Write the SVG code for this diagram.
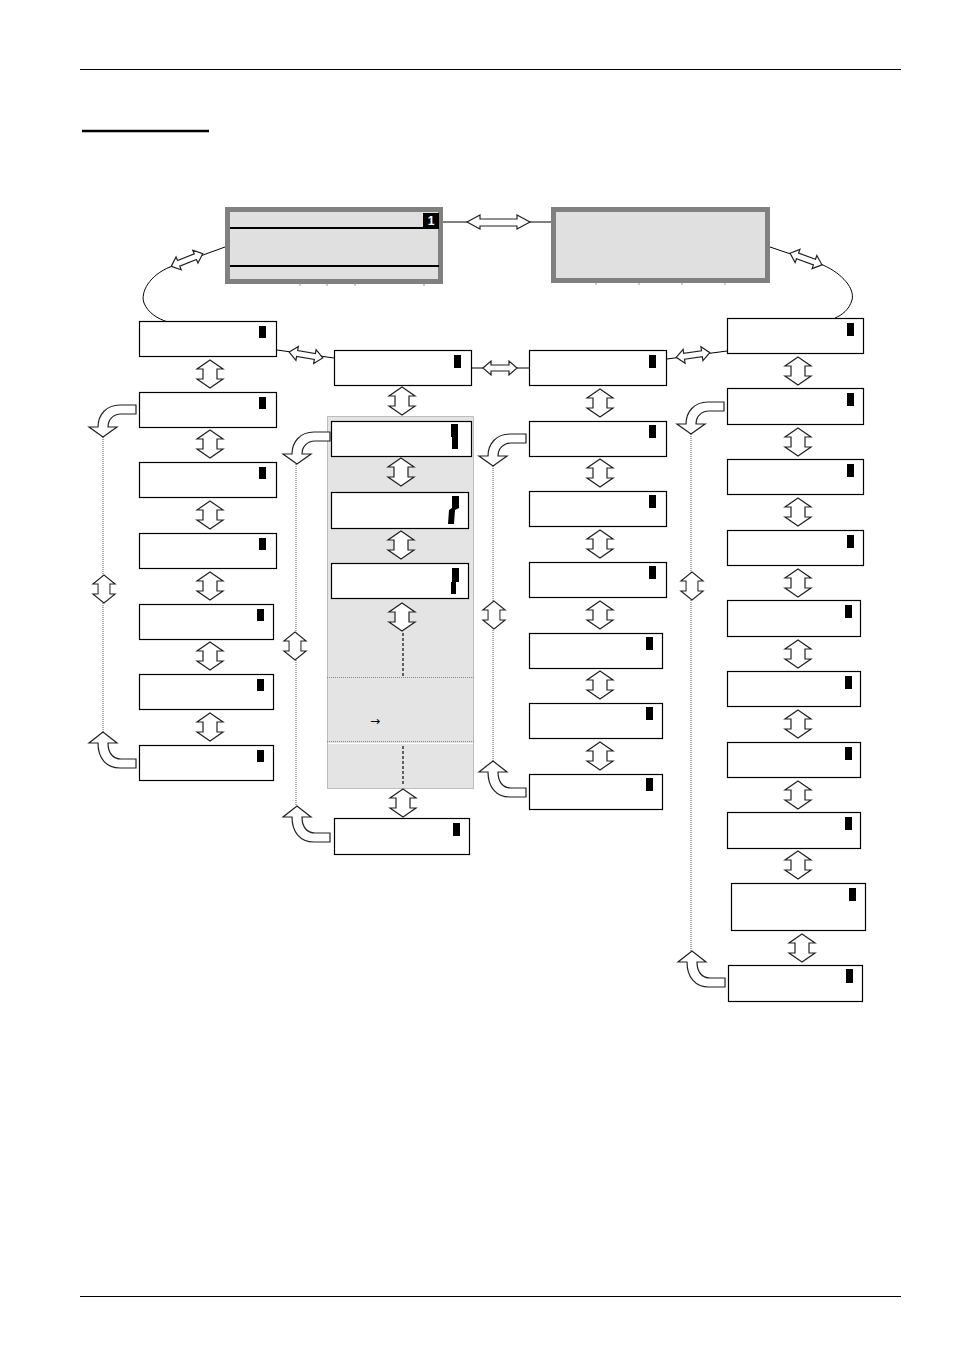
<svg xmlns="http://www.w3.org/2000/svg" width="954" height="1350" viewBox="0 0 954 1350">
<style>
.box{fill:#fff;stroke:#000;stroke-width:1.2}
.mk{fill:#000}
.lcd{fill:#e0e0e0;stroke:#808080;stroke-width:5}
.arr{fill:#fff;stroke:#222;stroke-width:1.2}
.dot{fill:none;stroke:#555;stroke-width:1;stroke-dasharray:1,1}
.ln{fill:none;stroke:#000;stroke-width:1}
.dash{fill:none;stroke:#333;stroke-width:1.5;stroke-dasharray:3,2}
.tick{stroke:#999;stroke-width:1}
</style>
<defs>
<path id="vda" d="M0,-14 L13,-5 L7,-5 L7,5 L13,5 L0,14 L-13,5 L-7,5 L-7,-5 L-13,-5 Z"/>
<path id="hda" d="M-17,0 L-9,-7 L-9,-3 L9,-3 L9,-7 L17,0 L9,7 L9,3 L-9,3 L-9,7 Z"/>
<path id="bdn" d="M0,0 L-16,0 C-30,0 -38,10 -38,22 L-47,22 L-33,32 L-19,22 L-28,22 C-28,15 -23,9 -15,9 L0,9 Z"/>
<path id="bup" d="M0,0 L-16,0 C-30,0 -38,-10 -38,-25 L-47,-25 L-33,-36 L-19,-25 L-28,-25 C-28,-15 -23,-9 -15,-9 L0,-9 Z"/>
</defs>

<!-- page frame -->
<line x1="80" y1="69.5" x2="901" y2="69.5" stroke="#000" stroke-width="1"/>
<line x1="82" y1="131" x2="209" y2="131" stroke="#000" stroke-width="2.7"/>
<line x1="80" y1="1296.5" x2="901" y2="1296.5" stroke="#000" stroke-width="1"/>

<!-- shaded group region -->
<g id="group-region">
<rect x="327.5" y="416.5" width="146" height="372" fill="#e4e4e4" stroke="#888" stroke-width="1" stroke-dasharray="1,1"/>
<line x1="327" y1="677.5" x2="474" y2="677.5" stroke="#888" stroke-dasharray="1,1"/>
<line x1="327" y1="741.5" x2="474" y2="741.5" stroke="#888" stroke-dasharray="1,1"/>
<line x1="328" y1="743.5" x2="473" y2="743.5" stroke="#fff"/>
<text x="375" y="725" font-family="DejaVu Sans, sans-serif" font-size="12" text-anchor="middle" fill="#000">→</text>
</g>

<!-- connectors -->
<g id="connectors">
<line class="ln" x1="443" y1="222" x2="551" y2="222"/>
<path class="arr" d="M467,222 L480,215 L480,219 L517,219 L517,215 L530,222 L517,229 L517,226 L480,226 L480,229 Z"/>
<path class="ln" d="M225,247 L170,267 C150,275 140,292 144,303 C148,313 158,319 168,322"/>
<use href="#hda" class="arr" transform="translate(187,260) rotate(-22)"/>
<path class="ln" d="M770,247 L823,265 C843,274 855,289 852,300 C849,310 842,315 835,318"/>
<use href="#hda" class="arr" transform="translate(806,259) rotate(20)"/>
<line class="ln" x1="277" y1="350" x2="334" y2="358"/>
<use href="#hda" class="arr" transform="translate(306,355) rotate(10)"/>
<line class="ln" x1="472" y1="368" x2="529" y2="368"/>
<use href="#hda" class="arr" transform="translate(500,368)"/>
<line class="ln" x1="667" y1="359" x2="727" y2="351"/>
<use href="#hda" class="arr" transform="translate(693,355) rotate(-8)"/>

<use href="#vda" class="arr" x="210" y="374"/>
<use href="#vda" class="arr" x="210" y="444"/>
<use href="#vda" class="arr" x="210" y="515"/>
<use href="#vda" class="arr" x="210" y="586"/>
<use href="#vda" class="arr" x="210" y="656"/>
<use href="#vda" class="arr" x="210" y="727"/>
<line class="dot" x1="103" y1="437" x2="103" y2="732"/>
<use href="#bdn" class="arr" x="136" y="405"/>
<use href="#bup" class="arr" x="136" y="768"/>
<use href="#vda" class="arr" transform="translate(104,589) scale(0.85,1)"/>

<use href="#vda" class="arr" x="402" y="401"/>
<use href="#vda" class="arr" x="401" y="472"/>
<use href="#vda" class="arr" x="401" y="545"/>
<use href="#vda" class="arr" x="402" y="617"/>
<line class="dash" x1="403" y1="633" x2="403" y2="676"/>
<line class="dash" x1="403" y1="746" x2="403" y2="786"/>
<use href="#vda" class="arr" x="403" y="803"/>
<line class="dot" x1="296" y1="464" x2="296" y2="806"/>
<use href="#bdn" class="arr" x="330" y="432"/>
<use href="#bup" class="arr" x="330" y="842"/>
<use href="#vda" class="arr" transform="translate(295,646) scale(0.85,1)"/>

<use href="#vda" class="arr" x="600" y="403"/>
<use href="#vda" class="arr" x="600" y="473"/>
<use href="#vda" class="arr" x="600" y="544"/>
<use href="#vda" class="arr" x="600" y="615"/>
<use href="#vda" class="arr" x="600" y="685"/>
<use href="#vda" class="arr" x="600" y="756"/>
<line class="dot" x1="493" y1="466" x2="493" y2="761"/>
<use href="#bdn" class="arr" x="526" y="434"/>
<use href="#bup" class="arr" x="526" y="797"/>
<use href="#vda" class="arr" transform="translate(494,615) scale(0.85,1)"/>

<use href="#vda" class="arr" x="798" y="371"/>
<use href="#vda" class="arr" x="798" y="442"/>
<use href="#vda" class="arr" x="798" y="512"/>
<use href="#vda" class="arr" x="798" y="583"/>
<use href="#vda" class="arr" x="798" y="654"/>
<use href="#vda" class="arr" x="798" y="724"/>
<use href="#vda" class="arr" x="798" y="795"/>
<use href="#vda" class="arr" x="798" y="865"/>
<use href="#vda" class="arr" x="802" y="948"/>
<line class="dot" x1="691" y1="434" x2="691" y2="951"/>
<use href="#bdn" class="arr" x="724" y="402"/>
<use href="#bup" class="arr" x="725" y="987"/>
<use href="#vda" class="arr" transform="translate(692,586) scale(0.85,1)"/>
</g>

<!-- LCD screens -->
<g id="lcd-main">
<rect class="lcd" x="227.5" y="209.5" width="213" height="72"/>
<line x1="230" y1="228" x2="439" y2="228" stroke="#000" stroke-width="2"/>
<line x1="230" y1="266" x2="439" y2="266" stroke="#000" stroke-width="2"/>
<rect x="423" y="213" width="16" height="14" fill="#000"/>
<text x="431" y="225" font-family="Liberation Sans, Arial, sans-serif" font-size="12" font-weight="bold" text-anchor="middle" fill="#fff">1</text>
<line class="tick" x1="300" y1="284" x2="300" y2="286"/>
<line class="tick" x1="327" y1="284" x2="327" y2="286"/>
<line class="tick" x1="355" y1="284" x2="355" y2="286"/>
<line class="tick" x1="424" y1="284" x2="424" y2="286"/>
</g>
<g id="lcd-second">
<rect class="lcd" x="553.5" y="209.5" width="214" height="71"/>
<line class="tick" x1="596" y1="283" x2="596" y2="285"/>
<line class="tick" x1="639" y1="283" x2="639" y2="285"/>
<line class="tick" x1="682" y1="283" x2="682" y2="285"/>
<line class="tick" x1="725" y1="283" x2="725" y2="285"/>
</g>

<g id="c1n1"><rect class="box" x="139.5" y="321.5" width="137" height="35"/><rect class="mk" x="259" y="326" width="7" height="12"/></g>
<g id="c1n2"><rect class="box" x="139.5" y="392.5" width="137" height="35"/><rect class="mk" x="259" y="397" width="7" height="12"/></g>
<g id="c1n3"><rect class="box" x="139.5" y="462.5" width="137" height="35"/><rect class="mk" x="259" y="467" width="7" height="12"/></g>
<g id="c1n4"><rect class="box" x="139.5" y="533.5" width="137" height="35"/><rect class="mk" x="259" y="538" width="7" height="12"/></g>
<g id="c1n5"><rect class="box" x="139.5" y="604.5" width="134" height="35"/><rect class="mk" x="257" y="609" width="7" height="12"/></g>
<g id="c1n6"><rect class="box" x="139.5" y="674.5" width="134" height="35"/><rect class="mk" x="257" y="679" width="7" height="12"/></g>
<g id="c1n7"><rect class="box" x="139.5" y="745.5" width="134" height="35"/><rect class="mk" x="257" y="750" width="7" height="12"/></g>

<g id="c2n1"><rect class="box" x="334.5" y="350.5" width="137" height="35"/><rect class="mk" x="454" y="355" width="7" height="13"/></g>
<g id="c2n2"><rect class="box" x="331.5" y="421.5" width="140" height="35"/><path class="mk" d="M451,424 H458 V449 H452 V437 H451 Z"/></g>
<g id="c2n3"><rect class="box" x="331.5" y="492.5" width="137" height="36"/><path class="mk" d="M452,496 H459 V508 L455,510 L454,524 H448 L449,510 L452,508 Z"/></g>
<g id="c2n4"><rect class="box" x="331.5" y="563.5" width="137" height="35"/><path class="mk" d="M452,568 H459 V582 H456 V594 H451 V582 H452 Z"/></g>
<g id="c2n5"><rect class="box" x="334.5" y="818.5" width="135" height="36"/><rect class="mk" x="453" y="823" width="7" height="13"/></g>

<g id="c3n1"><rect class="box" x="529.5" y="350.5" width="137" height="35"/><rect class="mk" x="649" y="355" width="7" height="13"/></g>
<g id="c3n2"><rect class="box" x="529.5" y="421.5" width="137" height="35"/><rect class="mk" x="649" y="425" width="7" height="13"/></g>
<g id="c3n3"><rect class="box" x="529.5" y="491.5" width="137" height="35"/><rect class="mk" x="649" y="495" width="7" height="13"/></g>
<g id="c3n4"><rect class="box" x="529.5" y="562.5" width="137" height="35"/><rect class="mk" x="649" y="566" width="7" height="13"/></g>
<g id="c3n5"><rect class="box" x="529.5" y="633.5" width="133" height="35"/><rect class="mk" x="646" y="637" width="7" height="13"/></g>
<g id="c3n6"><rect class="box" x="529.5" y="703.5" width="133" height="35"/><rect class="mk" x="646" y="707" width="7" height="13"/></g>
<g id="c3n7"><rect class="box" x="529.5" y="774.5" width="133" height="35"/><rect class="mk" x="646" y="778" width="7" height="13"/></g>

<g id="c4n1"><rect class="box" x="727.5" y="318.5" width="136" height="35"/><rect class="mk" x="847" y="323" width="7" height="13"/></g>
<g id="c4n2"><rect class="box" x="727.5" y="388.5" width="136" height="36"/><rect class="mk" x="847" y="393" width="7" height="13"/></g>
<g id="c4n3"><rect class="box" x="727.5" y="459.5" width="136" height="35"/><rect class="mk" x="847" y="464" width="7" height="13"/></g>
<g id="c4n4"><rect class="box" x="727.5" y="530.5" width="136" height="35"/><rect class="mk" x="847" y="535" width="7" height="13"/></g>
<g id="c4n5"><rect class="box" x="727.5" y="600.5" width="133" height="36"/><rect class="mk" x="845" y="605" width="7" height="13"/></g>
<g id="c4n6"><rect class="box" x="727.5" y="671.5" width="133" height="35"/><rect class="mk" x="845" y="676" width="7" height="13"/></g>
<g id="c4n7"><rect class="box" x="727.5" y="742.5" width="133" height="35"/><rect class="mk" x="845" y="747" width="7" height="13"/></g>
<g id="c4n8"><rect class="box" x="727.5" y="812.5" width="133" height="36"/><rect class="mk" x="845" y="817" width="7" height="13"/></g>
<g id="c4n9"><rect class="box" x="731.5" y="883.5" width="134" height="47"/><rect class="mk" x="849" y="888" width="7" height="13"/></g>
<g id="c4n10"><rect class="box" x="728.5" y="965.5" width="134" height="36"/><rect class="mk" x="846" y="969" width="7" height="14"/></g>
</svg>
